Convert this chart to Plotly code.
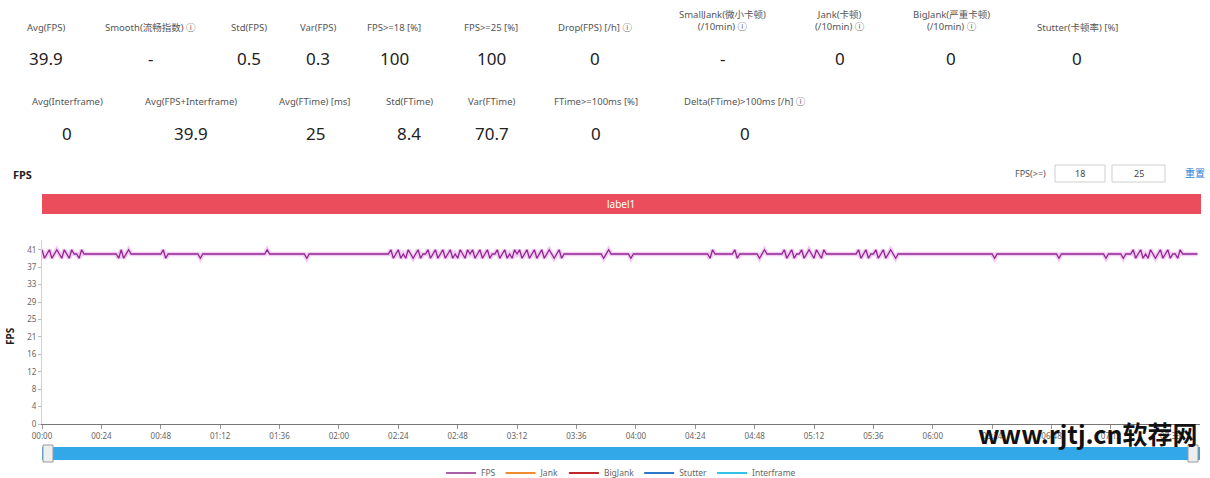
import plotly.graph_objects as go

# ---------------- data ----------------
stat_labels_row1 = ["Avg(FPS)", "Smooth(流畅指数) ⓘ", "Std(FPS)", "Var(FPS)", "FPS>=18 [%]", "FPS>=25 [%]",
                    "Drop(FPS) [/h] ⓘ", "SmallJank(微小卡顿)<br>(/10min) ⓘ", "Jank(卡顿)<br>(/10min) ⓘ",
                    "BigJank(严重卡顿)<br>(/10min) ⓘ", "Stutter(卡顿率) [%]"]
stat_values_row1 = ["39.9", "-", "0.5", "0.3", "100", "100", "0", "-", "0", "0", "0"]
stat_labels_row2 = ["Avg(Interframe)", "Avg(FPS+Interframe)", "Avg(FTime) [ms]", "Std(FTime)", "Var(FTime)",
                    "FTime>=100ms [%]", "Delta(FTime)>100ms [/h] ⓘ"]
stat_values_row2 = ["0", "39.9", "25", "8.4", "70.7", "0", "0"]

fps = [
    41, 39, 40, 41, 39, 40, 41, 40, 39, 41, 40, 39, 41, 40, 40, 39, 41, 40, 40, 40,
    40, 40, 40, 40, 40, 40, 40, 40, 40, 40, 40, 39, 41, 39, 40, 41, 40, 40, 40, 40,
    40, 40, 40, 40, 40, 40, 40, 40, 40, 41, 39, 40, 40, 40, 40, 40, 40, 40, 40, 40,
    40, 40, 40, 40, 39, 40, 40, 40, 40, 40, 40, 40, 40, 40, 40, 40, 40, 40, 40, 40,
    40, 40, 40, 40, 40, 40, 40, 40, 40, 40, 40, 41, 40, 40, 40, 40, 40, 40, 40, 40,
    40, 40, 40, 40, 40, 40, 40, 39, 40, 40, 40, 40, 40, 40, 40, 40, 40, 40, 40, 40,
    40, 40, 40, 40, 40, 40, 40, 40, 40, 40, 40, 40, 40, 40, 40, 40, 40, 40, 40, 40,
    40, 41, 39, 40, 41, 39, 40, 39, 41, 40, 39, 40, 41, 39, 40, 40, 41, 39, 40, 41,
    39, 40, 41, 39, 40, 41, 39, 40, 39, 41, 40, 39, 41, 40, 41, 39, 40, 41, 39, 40,
    41, 39, 40, 40, 41, 39, 40, 41, 39, 40, 39, 41, 40, 41, 39, 40, 41, 39, 40, 41,
    39, 40, 41, 39, 40, 41, 40, 39, 40, 41, 39, 40, 40, 40, 40, 40, 40, 40, 40, 40,
    40, 40, 40, 40, 40, 40, 40, 39, 40, 41, 40, 40, 40, 40, 40, 40, 40, 40, 39, 40,
    40, 40, 40, 40, 40, 40, 40, 40, 40, 40, 40, 40, 40, 40, 40, 40, 40, 40, 40, 40,
    40, 40, 40, 40, 40, 40, 40, 40, 40, 40, 39, 41, 40, 40, 40, 40, 40, 40, 40, 40,
    41, 39, 40, 40, 40, 40, 40, 40, 40, 40, 39, 40, 41, 40, 40, 40, 40, 40, 40, 40,
    41, 39, 40, 41, 39, 40, 40, 41, 39, 40, 41, 40, 39, 41, 40, 39, 41, 40, 40, 40,
    40, 40, 40, 40, 40, 40, 40, 40, 40, 40, 41, 39, 40, 41, 39, 40, 40, 41, 39, 40,
    41, 39, 40, 41, 40, 39, 40, 40, 40, 40, 40, 40, 40, 40, 40, 40, 40, 40, 40, 40,
    40, 40, 40, 40, 40, 40, 40, 40, 40, 40, 40, 40, 40, 40, 40, 40, 40, 40, 40, 40,
    40, 40, 40, 40, 40, 39, 40, 40, 40, 40, 40, 40, 40, 40, 40, 40, 40, 40, 40, 40,
    40, 40, 40, 40, 40, 40, 40, 40, 40, 40, 40, 39, 40, 40, 40, 40, 40, 40, 40, 40,
    40, 40, 40, 40, 40, 40, 40, 40, 40, 40, 39, 40, 40, 40, 40, 40, 40, 39, 40, 40,
    40, 41, 39, 40, 41, 39, 40, 39, 41, 40, 39, 40, 41, 39, 40, 41, 39, 40, 40, 39,
    41, 40, 40, 40, 40, 40, 40, 40,
]
seconds = list(range(len(fps)))

x_tick_vals = [0, 24, 48, 72, 96, 120, 144, 168, 192, 216, 240, 264, 288, 312, 336, 360, 384, 408, 432, 456]
x_tick_text = ["00:00", "00:24", "00:48", "01:12", "01:36", "02:00", "02:24", "02:48", "03:12", "03:36",
               "04:00", "04:24", "04:48", "05:12", "05:36", "06:00", "06:24", "06:48", "07:12", "07:36"]
y_tick_vals = [0, 4.1, 8.2, 12.3, 16.4, 20.5, 24.6, 28.7, 32.8, 36.9, 41]
y_tick_text = ["0", "4", "8", "12", "16", "21", "25", "29", "33", "37", "41"]

legend_names = ["FPS", "Jank", "BigJank", "Stutter", "Interframe"]
legend_colors = ["#b23ab2", "#f08c2e", "#c0282a", "#2f78c8", "#33c3e6"]

# ---------------- layout geometry ----------------
W, H = 1210, 478
L, R, T, B = 42, 10, 240, 54
PW, PH = W - L - R, H - T - B


def xp(px):
    return (px - L) / PW


def yp(py):
    return (H - B - py) / PH


FONT = "Noto Sans, Noto Sans CJK SC, sans-serif"

fig = go.Figure()

# halo + main line for FPS
fig.add_trace(go.Scatter(x=seconds, y=fps, mode="lines", line=dict(color="rgba(236,150,236,0.5)", width=4.5),
                         showlegend=False, hoverinfo="skip"))
fig.add_trace(go.Scatter(x=seconds, y=fps, mode="lines", name=legend_names[0],
                         line=dict(color="#8e2a8e", width=1.3)))
for name, col in zip(legend_names[1:], legend_colors[1:]):
    fig.add_trace(go.Scatter(x=[None], y=[None], mode="lines", name=name, line=dict(color=col, width=2)))

annotations = []
shapes = []


def text(px, py, s, size, color, xanchor="center", angle=0, family=FONT):
    annotations.append(dict(x=xp(px), y=yp(py), xref="paper", yref="paper", text=s, showarrow=False,
                            font=dict(size=size, color=color, family=family), xanchor=xanchor,
                            yanchor="middle", textangle=angle))


# stats row 1
row1_x = [46, 150, 249, 318, 394, 491, 595, 722, 840, 951, 1077]
for lab, val, cx in zip(stat_labels_row1, stat_values_row1, row1_x):
    two_line = "<br>" in lab
    text(cx, 20 if two_line else 27, lab, 9.5, "#555")
    text(cx, 58, val, 17, "#222")

# stats row 2
row2_x = [67, 191, 315, 409, 492, 596, 745]
for lab, val, cx in zip(stat_labels_row2, stat_values_row2, row2_x):
    text(cx, 101, lab, 9.5, "#555")
    text(cx, 133, val, 17, "#222")

# FPS title
text(11, 174, "<b>FPS</b>", 11, "#222", xanchor="left")
# threshold controls
text(1048, 173, "FPS(>=)", 9, "#555", xanchor="right")
for (x0, x1), t in zip([(1055, 1105), (1112, 1165)], ["18", "25"]):
    shapes.append(dict(type="rect", xref="paper", yref="paper", x0=xp(x0), x1=xp(x1), y0=yp(182), y1=yp(165),
                       line=dict(color="#cfcfcf", width=1), fillcolor="white", layer="below"))
    text((x0 + x1) / 2, 173.5, t, 9, "#444")
text(1195, 173, "重置", 10, "#2f7fd8")

# label bar
shapes.append(dict(type="rect", xref="paper", yref="paper", x0=xp(42), x1=xp(1201), y0=yp(214), y1=yp(194),
                   line=dict(width=0), fillcolor="#ec4d5c"))
text(621, 204, "label1", 10, "white")

# y axis title
text(10, 336, "<b>FPS</b>", 10, "#222", angle=-90)

# data zoom bar
shapes.append(dict(type="rect", xref="paper", yref="paper", x0=xp(42), x1=xp(1200), y0=yp(460), y1=yp(447),
                   line=dict(width=0), fillcolor="#33a8e8"))
for x0 in (43, 1188):
    shapes.append(dict(type="rect", xref="paper", yref="paper", x0=xp(x0), x1=xp(x0 + 10), y0=yp(462),
                       y1=yp(445), line=dict(color="#9a9a9a", width=1), fillcolor="#eeeeee"))

# watermark text
text(1088, 433, "<b>www.rjtj.cn软荐网</b>", 25, "#111", family="Noto Sans CJK SC, sans-serif")

fig.update_layout(
    width=W, height=H, margin=dict(l=L, r=R, t=T, b=B, autoexpand=False),
    paper_bgcolor="white", plot_bgcolor="white",
    font=dict(family=FONT, size=8, color="#666"),
    xaxis=dict(range=[0, 468], tickmode="array", tickvals=x_tick_vals, ticktext=x_tick_text,
               showgrid=False, zeroline=False, showline=True, linecolor="#777", linewidth=1,
               ticks="outside", ticklen=4, tickcolor="#999", tickfont=dict(size=8, color="#666"),
               automargin=False),
    yaxis=dict(range=[0, 43.3], tickmode="array", tickvals=y_tick_vals, ticktext=y_tick_text,
               showgrid=False, zeroline=False, showline=True, linecolor="#d0d0d0", linewidth=1,
               ticks="outside", ticklen=3, tickcolor="#bbb", tickfont=dict(size=8, color="#666"),
               automargin=False),
    legend=dict(orientation="h", x=0.5, xanchor="center", yref="container", y=(H - 473) / H,
                yanchor="middle", font=dict(size=8.5, color="#666"), itemwidth=30,
                bgcolor="rgba(0,0,0,0)"),
    annotations=annotations, shapes=shapes, showlegend=True,
)

fig.write_html("out.html")
